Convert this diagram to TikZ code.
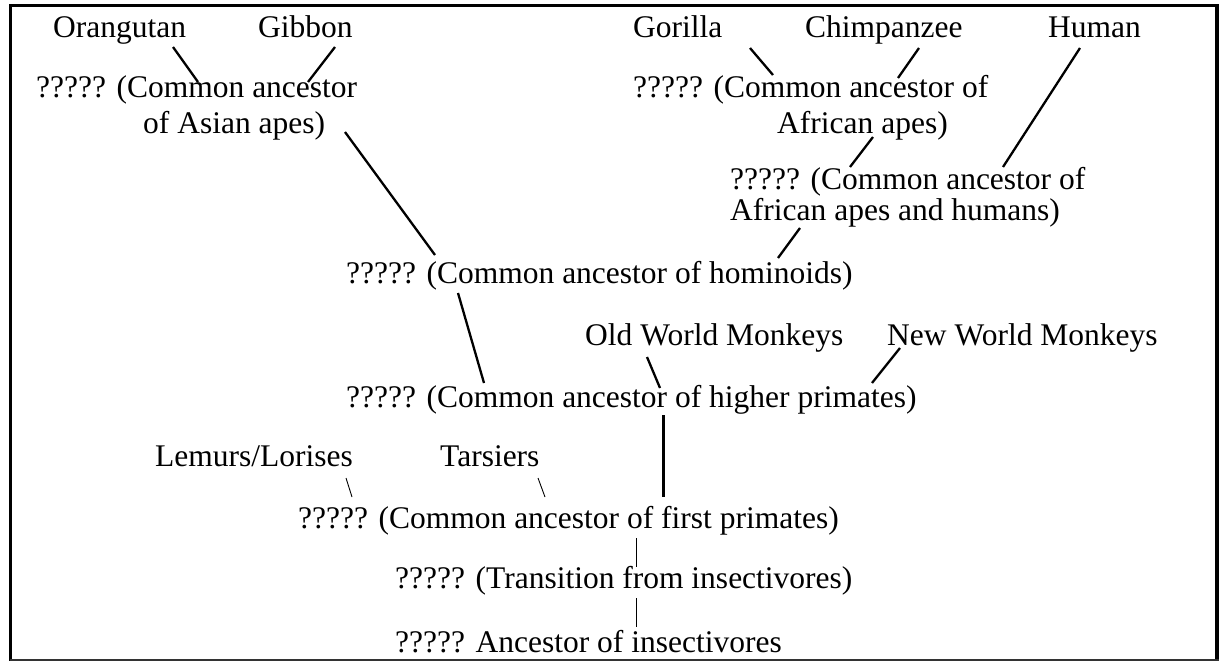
\documentclass[tikz,border=0pt]{standalone}
\usepackage{fontspec}
\setmainfont{Liberation Serif}
\usetikzlibrary{calc}

\begin{document}
\begin{tikzpicture}[x=1pt,y=-1pt,
  lbl/.style={anchor=base west,inner sep=0pt,font=\fontsize{31.5}{36}\selectfont},
  link/.style={line width=2.3pt},
  trunk/.style={line width=3pt},
  thinlink/.style={line width=0.9pt}]
\useasboundingbox (0,0) rectangle (1219,661);
% ---------- frame ----------
\draw[line width=3.6pt] (10.5,661) -- (10.5,5.5) -- (1217,5.5) -- (1217,661);
\draw[line width=1.8pt,black!80] (10,659.6) -- (1219,659.6);
% ---------- living groups (top) ----------
\node[lbl] (orangutan) at (53,38) {Orangutan};
\node[lbl] (gibbon) at (258,38) {Gibbon};
\node[lbl] (gorilla) at (633,38) {Gorilla};
\node[lbl] (chimp) at (805,38) {Chimpanzee};
\node[lbl] (human) at (1048,38) {Human};
% ---------- ape ancestors ----------
\node[lbl] (asian) at (36,97) {????? (Common ancestor};
\node[lbl] (asianB) at (143,133) {of Asian apes)};
\node[lbl] (african) at (633,98) {????? (Common ancestor of};
\node[lbl] (africanB) at (777,133) {African apes)};
\node[lbl] (afrhum) at (730,189) {????? (Common ancestor of};
\node[lbl] (afrhumB) at (730,220) {African apes and humans)};
\node[lbl] (hominoid) at (346,283) {????? (Common ancestor of hominoids)};
% ---------- monkeys ----------
\node[lbl] (owm) at (585,345) {Old World Monkeys};
\node[lbl] (nwm) at (887,345) {New World Monkeys};
\node[lbl] (higher) at (346,407) {????? (Common ancestor of higher primates)};
% ---------- early primates ----------
\node[lbl] (lemur) at (155,466) {Lemurs/Lorises};
\node[lbl] (tarsier) at (440,466) {Tarsiers};
\node[lbl] (first) at (298,528) {????? (Common ancestor of first primates)};
\node[lbl] (trans) at (395,588) {????? (Transition from insectivores)};
\node[lbl] (insect) at (395,652) {????? Ancestor of insectivores};
% ---------- branches ----------
\draw[link] ($(orangutan.base west)+(120,9)$) -- ($(asian.base west)+(162,-15)$);
\draw[link] ($(gibbon.base west)+(77,9)$) -- ($(asian.base west)+(272,-15)$);
\draw[link] ($(asianB.base west)+(202,-1)$) -- ($(hominoid.base west)+(89,-28)$);
\draw[link] ($(gorilla.base west)+(117,10)$) -- ($(african.base west)+(140,-23)$);
\draw[link] ($(chimp.base west)+(114,10)$) -- ($(african.base west)+(265,-20)$);
\draw[link] ($(africanB.base west)+(96,4)$) -- ($(afrhum.base west)+(120,-22)$);
\draw[link] ($(human.base west)+(32,10)$) -- ($(afrhum.base west)+(273,-22)$);
\draw[link] ($(afrhumB.base west)+(70,8)$) -- ($(hominoid.base west)+(432,-25)$);
\draw[link] ($(hominoid.base west)+(112,10)$) -- ($(higher.base west)+(138,-24)$);
\draw[link] ($(owm.base west)+(62,12)$) -- ($(higher.base west)+(314,-19)$);
\draw[link] ($(nwm.base west)+(13,3)$) -- ($(higher.base west)+(526,-24)$);
\draw[trunk] ($(higher.base west)+(317,8)$) -- ($(first.base west)+(365,-31)$);
\draw[thinlink] ($(lemur.base west)+(191,12)$) -- ($(first.base west)+(54,-31)$);
\draw[thinlink] ($(tarsier.base west)+(98,12)$) -- ($(first.base west)+(247,-31)$);
\draw[thinlink] ($(first.base west)+(338,10)$) -- ($(trans.base west)+(241,-21)$);
\draw[thinlink] ($(trans.base west)+(241,10)$) -- ($(insect.base west)+(241,-25)$);
\end{tikzpicture}
\end{document}
